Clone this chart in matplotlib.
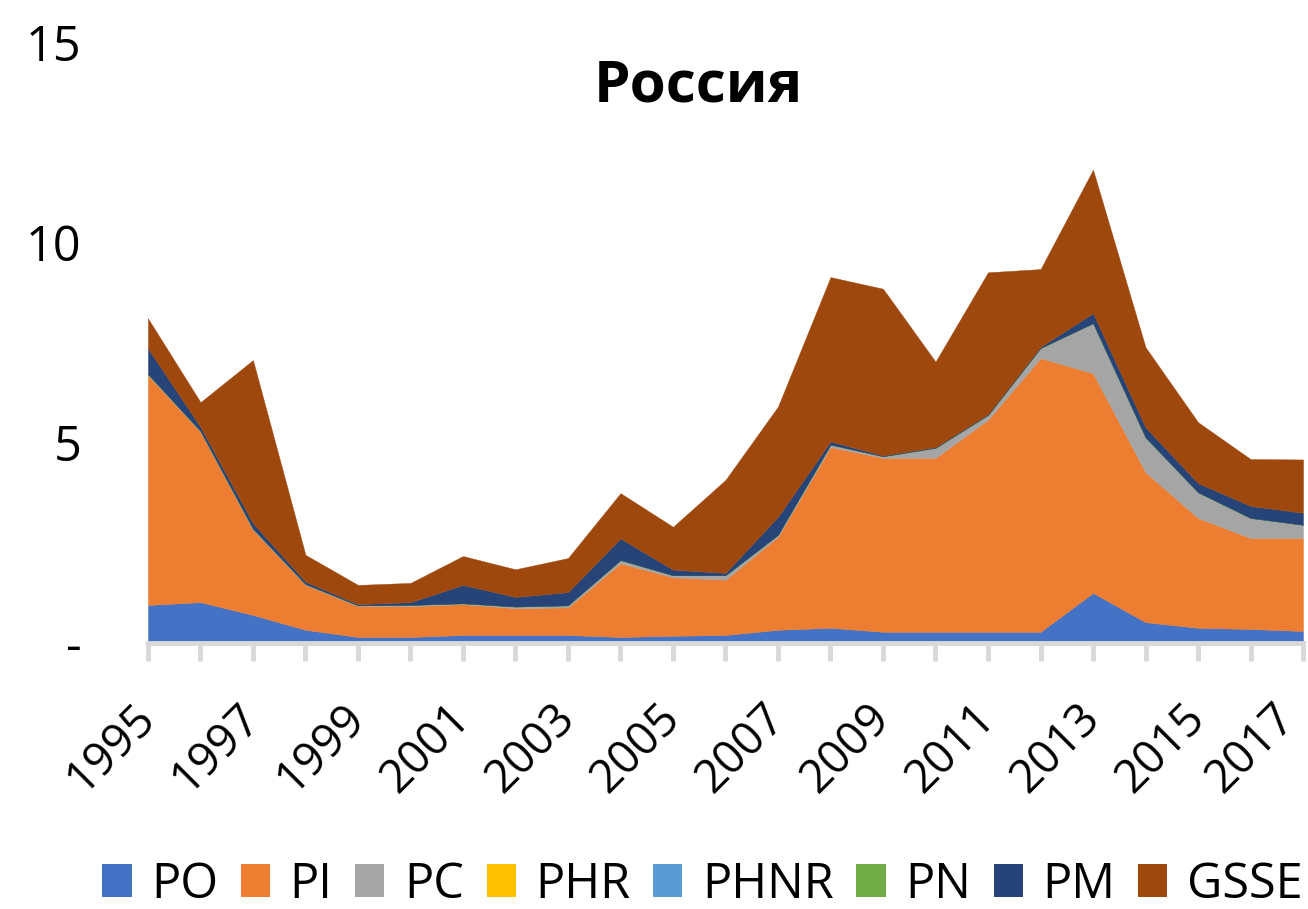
import numpy as np
import matplotlib
matplotlib.use('Agg')
import matplotlib.pyplot as plt
from matplotlib.patches import Patch
from matplotlib.transforms import ScaledTranslation

plt.rcParams['font.family'] = ['Open Sans', 'DejaVu Sans']

# --- данные ---
years = list(range(1995, 2018))
series_names = ['PO', 'PI', 'PC', 'PHR', 'PHNR', 'PN', 'PM', 'GSSE']

po = [0.95, 1.02, 0.70, 0.33, 0.15, 0.15, 0.20, 0.20, 0.20, 0.15, 0.18, 0.20,
      0.33, 0.38, 0.28, 0.28, 0.28, 0.28, 1.25, 0.52, 0.38, 0.35, 0.30]
pi = [5.73, 4.25, 2.12, 1.12, 0.77, 0.77, 0.77, 0.67, 0.69, 1.84, 1.46, 1.38,
      2.32, 4.51, 4.34, 4.34, 5.29, 6.83, 5.48, 3.74, 2.74, 2.27, 2.32]
pc = [0.03, 0.02, 0.03, 0.02, 0.02, 0.03, 0.02, 0.04, 0.05, 0.08, 0.05, 0.11,
      0.05, 0.06, 0.04, 0.25, 0.12, 0.25, 1.25, 0.87, 0.64, 0.50, 0.33]
phr = [0.0] * 23
phnr = [0.0] * 23
pn = [0.0] * 23
pm = [0.64, 0.10, 0.14, 0.06, 0.03, 0.07, 0.46, 0.24, 0.33, 0.54, 0.14, 0.06,
      0.45, 0.08, 0.02, 0.02, 0.02, 0.03, 0.25, 0.25, 0.23, 0.30, 0.30]
gsse = [0.75, 0.62, 4.07, 0.67, 0.48, 0.48, 0.72, 0.69, 0.85, 1.13, 1.07, 2.32,
        2.75, 4.10, 4.16, 2.13, 3.54, 1.94, 3.58, 2.00, 1.52, 1.17, 1.33]

y_ticks = [0, 5, 10, 15]
y_tick_labels = ['-', '5', '10', '15']

# цвета в стиле Excel
colors = ['#4472C4', '#ED7D31', '#A5A5A5', '#FFC000', '#5B9BD5', '#70AD47', '#264478', '#9E480E']

fig = plt.figure(figsize=(13.08, 9.09), dpi=100)
ax = fig.add_axes([0.1131, 0.2926, 0.8831, 0.6614])

ax.stackplot(years, po, pi, pc, phr, phnr, pn, pm, gsse,
             colors=colors, linewidth=0.3, edgecolor='face')

ax.set_xlim(1995, 2017)
ax.set_ylim(0, 15)

for s in ['top', 'right', 'left']:
    ax.spines[s].set_visible(False)
ax.spines['bottom'].set_color('#D9D9D9')
ax.spines['bottom'].set_linewidth(3.5)

ax.set_yticks(y_ticks)
ax.set_yticklabels(y_tick_labels)
ax.tick_params(axis='y', length=0, pad=48, labelsize=35)

ax.set_xticks(years)
ax.set_xticklabels([str(y) if (y - 1995) % 2 == 0 else '' for y in years],
                   rotation=45, ha='right', va='baseline', rotation_mode='anchor')
ax.tick_params(axis='x', length=13, width=3.5, color='#D9D9D9', pad=42, labelsize=33)
labels = ax.get_xticklabels()
for i, lab in enumerate(labels):
    # последнюю подпись чуть сдвигаем, чтобы она не обрезалась краем
    dx = 9 if i < len(labels) - 1 else -6
    lab.set_transform(lab.get_transform() + ScaledTranslation(dx / 100, 0, fig.dpi_scale_trans))

fig.text(0.534, 1 - 102 / 909, 'Россия', fontsize=42, fontweight='bold',
         ha='center', va='baseline')

handles = [Patch(facecolor=c, edgecolor='none') for c in colors]
fig.legend(handles, series_names, loc='center', bbox_to_anchor=(0.537, 1 - 885 / 909),
           ncol=8, frameon=False, fontsize=35, handlelength=0.6, handleheight=0.65,
           handletextpad=0.4, columnspacing=0.47, borderaxespad=0)

fig.savefig('out.png', dpi=100)
